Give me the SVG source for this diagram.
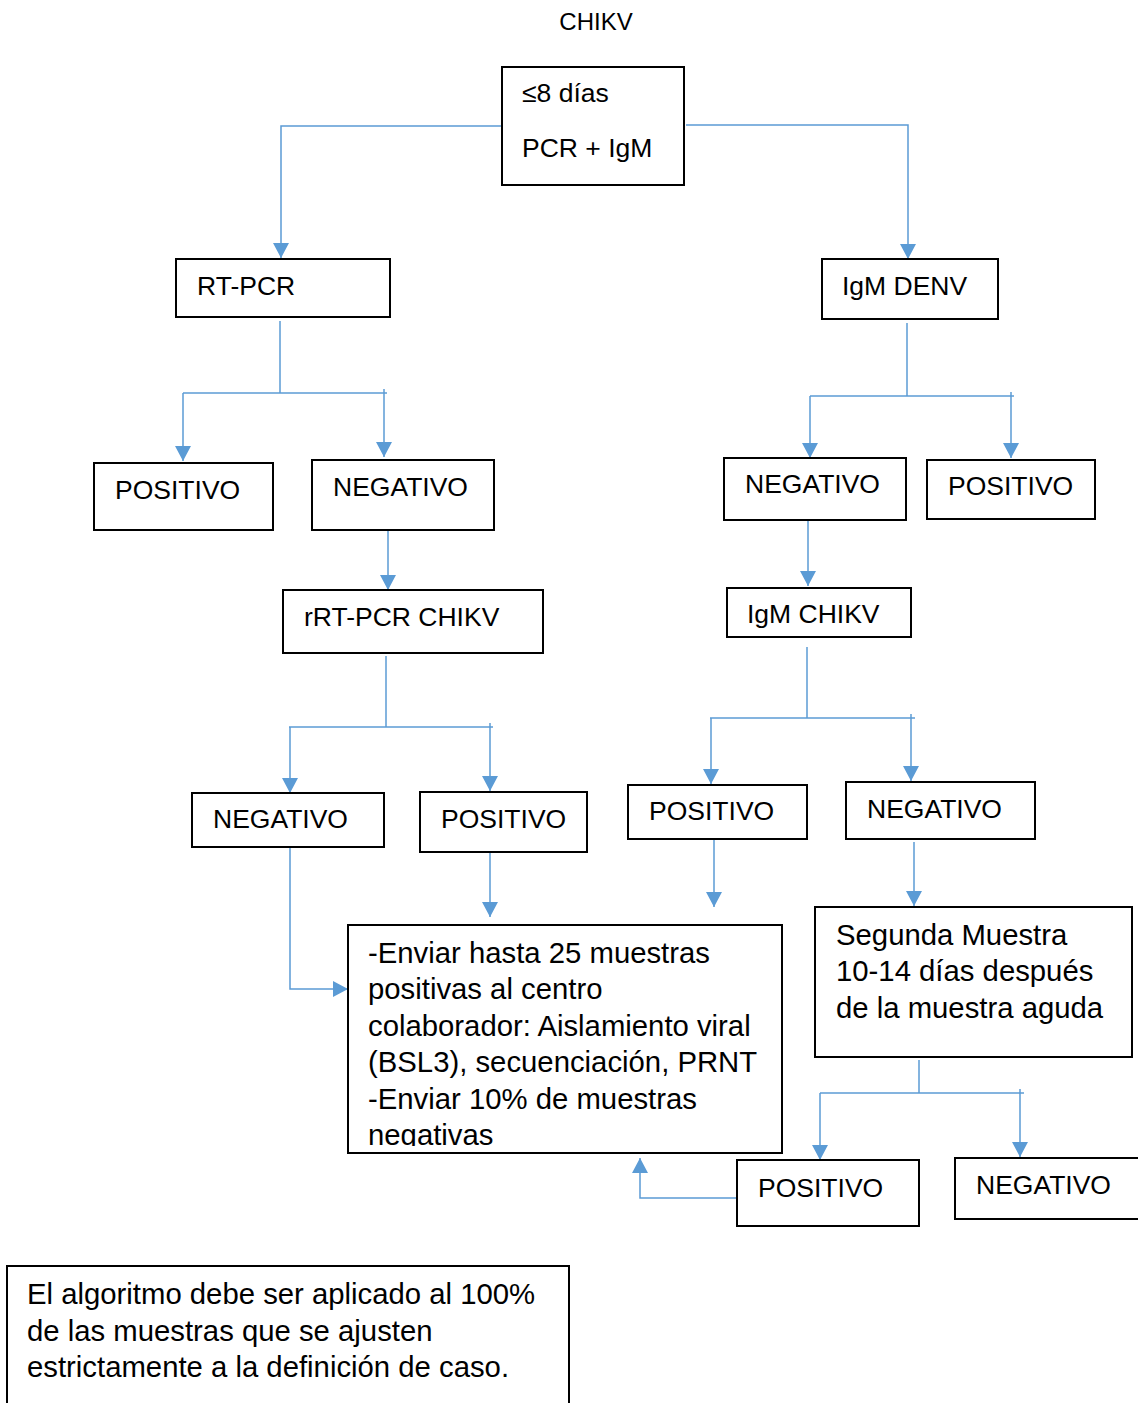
<svg xmlns="http://www.w3.org/2000/svg" width="1138" height="1403" viewBox="0 0 1138 1403">
<style>
.box{fill:#fff;stroke:#000;stroke-width:2}
.t{font-family:"Liberation Sans",Arial,sans-serif;font-size:26.5px;fill:#000}
.m{font-family:"Liberation Sans",Arial,sans-serif;font-size:29.3px;fill:#000}
.title{font-family:"Liberation Sans",Arial,sans-serif;font-size:24px;fill:#000}
.c{fill:none;stroke:#5B9BD5;stroke-width:1.5}
.ca{fill:none;stroke:#5B9BD5;stroke-width:1.5;marker-end:url(#ah)}
</style>
<defs>
<marker id="ah" markerUnits="userSpaceOnUse" markerWidth="16" markerHeight="16" viewBox="0 0 16 16" refX="15" refY="8" orient="auto">
<path d="M0,0 L15,8 L0,16 Z" fill="#5B9BD5"/>
</marker>
<clipPath id="clipBig"><rect x="348" y="925" width="434" height="221"/></clipPath>
</defs>
<rect width="1138" height="1403" fill="#fff"/>
<text class="title" x="596" y="30" text-anchor="middle">CHIKV</text>

<g id="connectors">
<path class="ca" d="M503,126 H281 V258"/>
<path class="ca" d="M686,125 H908 V259"/>
<path class="c" d="M280,321 V393"/>
<path class="c" d="M183,393 H387"/>
<path class="ca" d="M183,393 V461"/>
<path class="ca" d="M384,389 V457"/>
<path class="ca" d="M388,527 V590"/>
<path class="c" d="M386,656 V727"/>
<path class="c" d="M289,727 H493"/>
<path class="ca" d="M290,727 V793"/>
<path class="ca" d="M490,723 V791"/>
<path class="ca" d="M290,847 V989 H348"/>
<path class="ca" d="M490,852 V917"/>
<path class="c" d="M907,323 V396"/>
<path class="c" d="M810,396 H1014"/>
<path class="ca" d="M810,396 V458"/>
<path class="ca" d="M1011,392 V458"/>
<path class="ca" d="M808,520 V586"/>
<path class="c" d="M807,647 V718"/>
<path class="c" d="M710,718 H915"/>
<path class="ca" d="M711,718 V784"/>
<path class="ca" d="M911,714 V781"/>
<path class="ca" d="M714,840 V907"/>
<path class="ca" d="M914,842 V906"/>
<path class="c" d="M919,1060 V1093"/>
<path class="c" d="M820,1093 H1024"/>
<path class="ca" d="M820,1093 V1160"/>
<path class="ca" d="M1020,1089 V1157"/>
<path class="ca" d="M737,1198 H640 V1158"/>
</g>

<g id="n-top"><rect class="box" x="502" y="67" width="182" height="118"/>
<text class="t" x="522" y="102">≤8 días</text><text class="t" x="522" y="157">PCR + IgM</text></g>
<g id="n-rtpcr"><rect class="box" x="176" y="259" width="214" height="58"/><text class="t" x="197" y="295">RT-PCR</text></g>
<g id="n-igmdenv"><rect class="box" x="822" y="259" width="176" height="60"/><text class="t" x="842" y="295">IgM DENV</text></g>
<g id="n-pos1"><rect class="box" x="94" y="463" width="179" height="67"/><text class="t" x="115" y="499">POSITIVO</text></g>
<g id="n-neg1"><rect class="box" x="312" y="460" width="182" height="70"/><text class="t" x="333" y="496">NEGATIVO</text></g>
<g id="n-rrtpcr"><rect class="box" x="283" y="590" width="260" height="63"/><text class="t" x="304" y="626">rRT-PCR CHIKV</text></g>
<g id="n-neg2"><rect class="box" x="192" y="793" width="192" height="54"/><text class="t" x="213" y="828">NEGATIVO</text></g>
<g id="n-pos2"><rect class="box" x="420" y="792" width="167" height="60"/><text class="t" x="441" y="828">POSITIVO</text></g>
<g id="n-neg3"><rect class="box" x="724" y="458" width="182" height="62"/><text class="t" x="745" y="493">NEGATIVO</text></g>
<g id="n-pos3"><rect class="box" x="927" y="460" width="168" height="59"/><text class="t" x="948" y="495">POSITIVO</text></g>
<g id="n-igmchikv"><rect class="box" x="727" y="588" width="184" height="49"/><text class="t" x="747" y="623">IgM CHIKV</text></g>
<g id="n-pos4"><rect class="box" x="628" y="785" width="179" height="54"/><text class="t" x="649" y="820">POSITIVO</text></g>
<g id="n-neg4"><rect class="box" x="846" y="782" width="189" height="57"/><text class="t" x="867" y="818">NEGATIVO</text></g>
<g id="n-enviar"><rect class="box" x="348" y="925" width="434" height="228"/>
<g clip-path="url(#clipBig)">
<text class="m" x="368" y="963">-Enviar hasta 25 muestras</text>
<text class="m" x="368" y="999">positivas al centro</text>
<text class="m" x="368" y="1036">colaborador: Aislamiento viral</text>
<text class="m" x="368" y="1072">(BSL3), secuenciación, PRNT</text>
<text class="m" x="368" y="1109">-Enviar 10% de muestras</text>
<text class="m" x="368" y="1145">negativas</text>
</g></g>
<g id="n-segunda"><rect class="box" x="815" y="907" width="317" height="150"/>
<text class="m" x="836" y="945">Segunda Muestra</text>
<text class="m" x="836" y="981">10-14 días después</text>
<text class="m" x="836" y="1018">de la muestra aguda</text></g>
<g id="n-pos5"><rect class="box" x="737" y="1160" width="182" height="66"/><text class="t" x="758" y="1197">POSITIVO</text></g>
<g id="n-neg5"><rect class="box" x="955" y="1158" width="190" height="61"/><text class="t" x="976" y="1194">NEGATIVO</text></g>
<g id="n-note"><rect class="box" x="7" y="1266" width="562" height="150"/>
<text class="m" x="27" y="1304">El algoritmo debe ser aplicado al 100%</text>
<text class="m" x="27" y="1341">de las muestras que se ajusten</text>
<text class="m" x="27" y="1377">estrictamente a la definición de caso.</text></g>
</svg>
